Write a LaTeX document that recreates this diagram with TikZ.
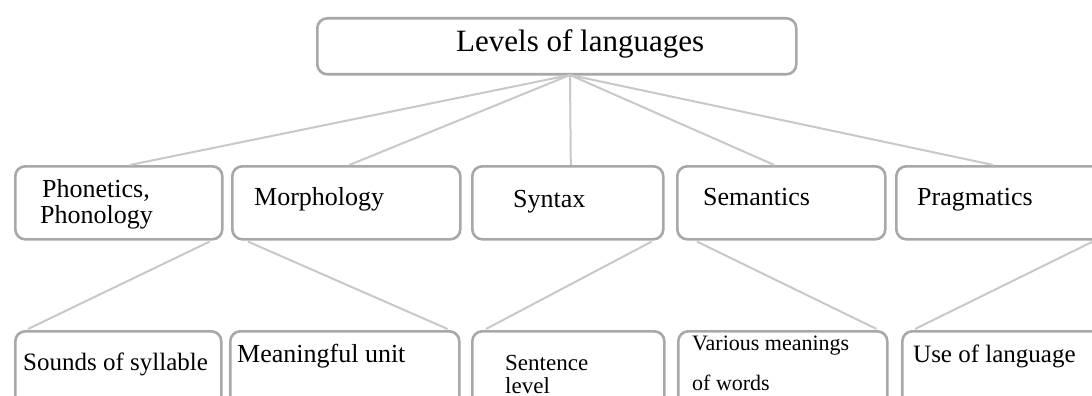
\documentclass[tikz,border=0pt]{standalone}
\usepackage{fontspec}
\setmainfont{Liberation Serif}
\usetikzlibrary{calc}

\definecolor{boxgray}{HTML}{A8A8A8}
\definecolor{linkgray}{HTML}{C8C8C8}

\tikzset{
  levelbox/.style={draw=boxgray, line width=2.6pt, rounded corners=10pt, fill=white,
    inner sep=0pt, anchor=north west},
  link/.style={draw=linkgray, line width=2pt},
  lbl/.style={anchor=base west, inner sep=0pt, font=\fontsize{26}{26}\selectfont},
}

\newcommand{\boxat}[5]{% name, left, top, right, bottom
  \node[levelbox, minimum width=#4-#2, minimum height=#5-#3] (#1) at (#2,#3) {};}

\begin{document}
\begin{tikzpicture}[x=1pt,y=-1pt]
\useasboundingbox (0,0) rectangle (1092,396);

% hub where the top-level connectors meet
\coordinate (hub) at (570,75);

% boxes
\boxat{root}{316}{17}{795}{73}
\boxat{phon}{14}{165}{221}{238}
\boxat{morph}{231}{165}{459}{238}
\boxat{syn}{471}{165}{662}{238}
\boxat{sem}{676}{165}{884}{238}
\boxat{prag}{895}{165}{1115}{238}
\boxat{sounds}{14}{330}{220}{415}
\boxat{mean}{229}{330}{458}{415}
\boxat{sent}{471}{330}{663}{415}
\boxat{var}{677}{330}{886}{415}
\boxat{use}{901}{330}{1115}{415}

% top level to the five levels
\draw[link] (hub) -- ([xshift=11pt]phon.north);
\draw[link] (hub) -- ([xshift=3pt]morph.north);
\draw[link] (hub) -- ([xshift=3pt]syn.north);
\draw[link] (hub) -- ([xshift=-7pt]sem.north);
\draw[link] (hub) -- ([xshift=-13pt]prag.north);

% each level to its description
\draw[link] ([xshift=-14pt,yshift=-1pt]phon.south east) -- ([xshift=14pt,yshift=1pt]sounds.north west);
\draw[link] ([xshift=17pt,yshift=-1pt]morph.south west) -- ([xshift=-13pt,yshift=1pt]mean.north east);
\draw[link] ([xshift=-13pt,yshift=-1pt]syn.south east) -- ([xshift=15pt,yshift=1pt]sent.north west);
\draw[link] ([xshift=21pt,yshift=-1pt]sem.south west) -- ([xshift=-12pt,yshift=1pt]var.north east);
\draw[link] ([xshift=-25pt,yshift=-1pt]prag.south east) -- ([xshift=14pt,yshift=1pt]use.north west);

% texts
\node[anchor=base west, inner sep=0pt, font=\fontsize{31}{31}\selectfont] (troot) at (456,52) {Levels of languages};
\node[lbl] (tphon1) at (42,197) {Phonetics,};
\node[lbl] (tphon2) at (40,223) {Phonology};
\node[lbl] (tmorph) at (254,205) {Morphology};
\node[lbl] (tsyn) at (513,207) {Syntax};
\node[lbl] (tsem) at (703,205) {Semantics};
\node[lbl] (tprag) at (917,205) {Pragmatics};
\node[lbl, font=\fontsize{25}{25}\selectfont] (tsounds) at (23,370) {Sounds of syllable};
\node[lbl] (tmean) at (237,362) {Meaningful unit};
\node[lbl, font=\fontsize{23}{23}\selectfont] (tsent1) at (505,370) {Sentence};
\node[lbl, font=\fontsize{23}{23}\selectfont] (tsent2) at (505,393) {level};
\node[lbl, font=\fontsize{22}{22}\selectfont] (tvar1) at (692,350) {Various meanings};
\node[lbl, font=\fontsize{22}{22}\selectfont] (tvar2) at (692,390) {of words};
\node[lbl, font=\fontsize{25}{25}\selectfont] (tuse) at (913,362) {Use of language};
\end{tikzpicture}
\end{document}
